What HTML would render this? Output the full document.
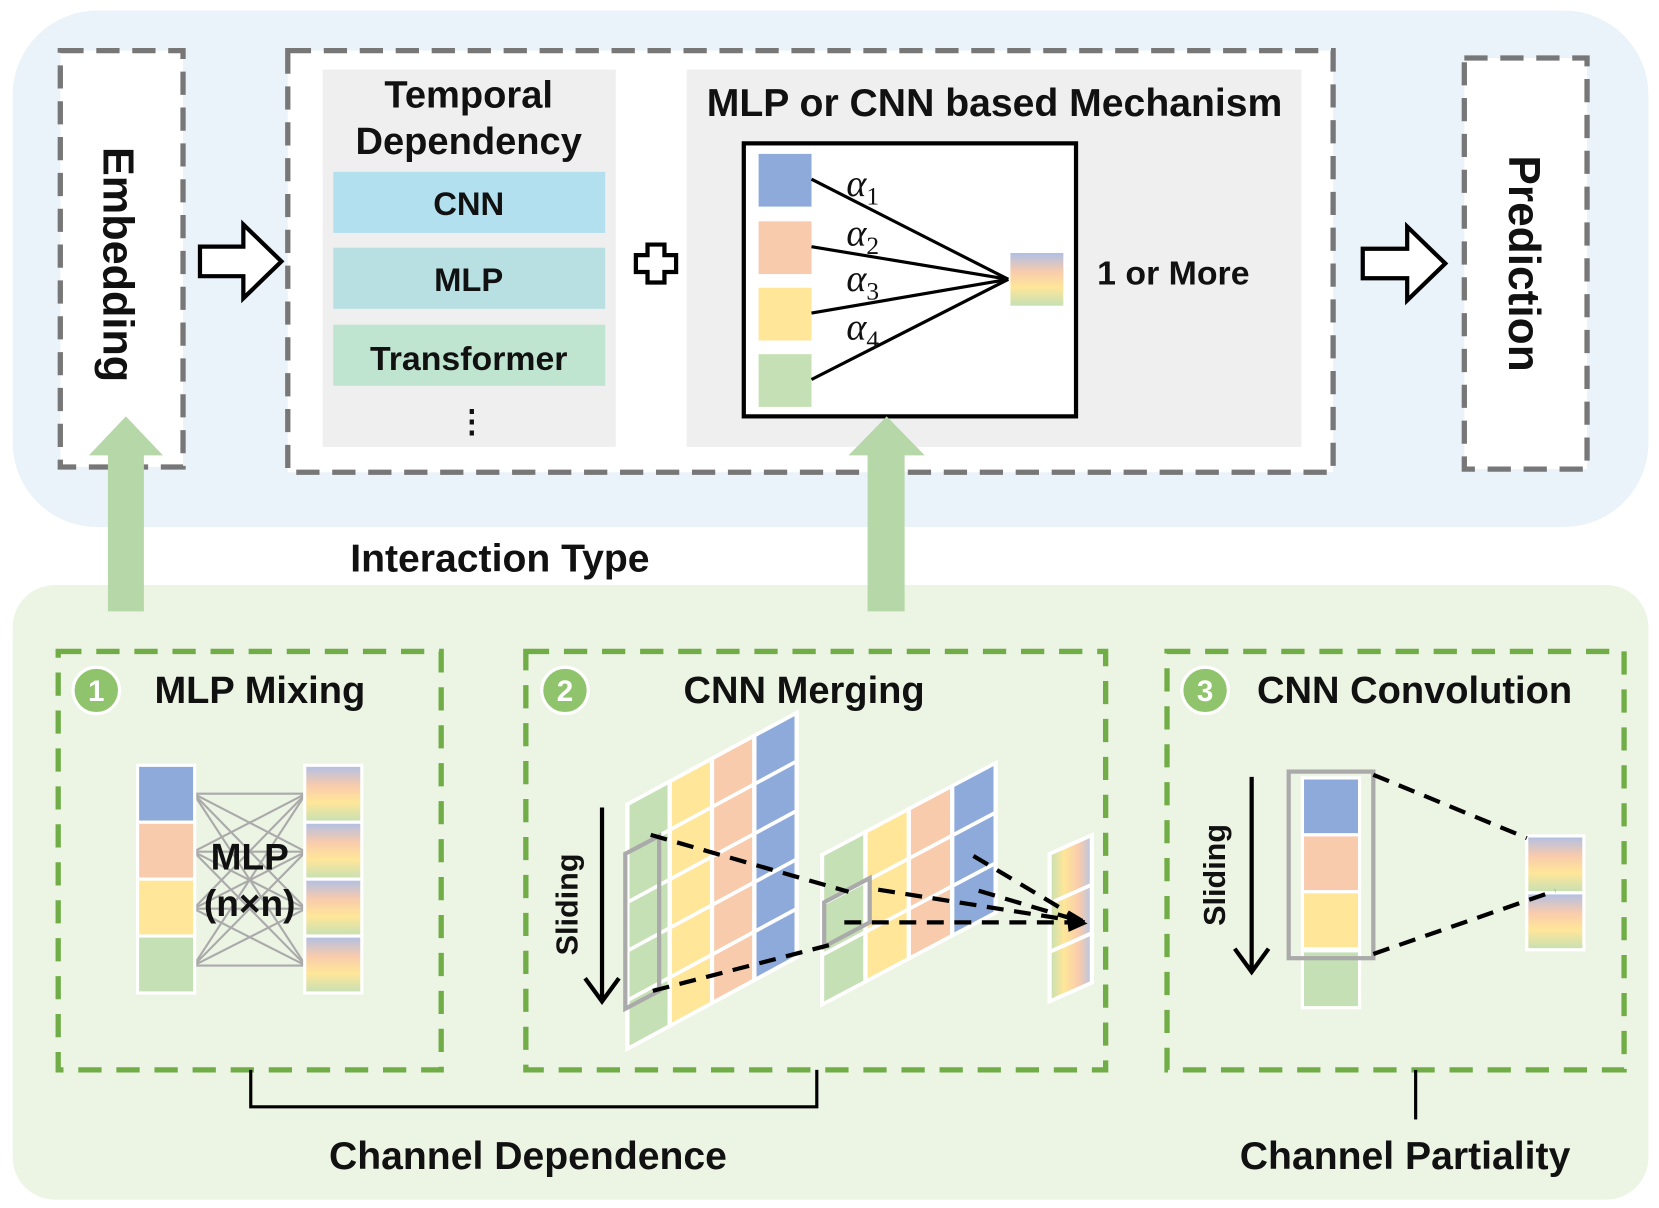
<!DOCTYPE html>
<html><head><meta charset="utf-8"><style>html,body{margin:0;padding:0;background:#fff}svg{display:block}text{font-family:"Liberation Sans",sans-serif;font-weight:bold;fill:#111}</style></head><body>
<svg width="1659" height="1208" viewBox="0 0 1568 1146" preserveAspectRatio="none" xmlns="http://www.w3.org/2000/svg">
<defs>
<linearGradient id="gv" x1="0" y1="0" x2="0" y2="1"><stop offset="0" stop-color="#aebfe6"/><stop offset="0.35" stop-color="#f8cbad"/><stop offset="0.65" stop-color="#ffe699"/><stop offset="1" stop-color="#c5e0b4"/></linearGradient>
<linearGradient id="gh" x1="0" y1="0" x2="1" y2="0"><stop offset="0" stop-color="#c5e0b4"/><stop offset="0.35" stop-color="#ffe699"/><stop offset="0.7" stop-color="#f8cbad"/><stop offset="1" stop-color="#b4c7e7"/></linearGradient>
</defs>
<rect x="12" y="10" width="1546" height="490" rx="80" fill="#eaf2fa"/>
<rect x="12" y="555" width="1546" height="583" rx="40" fill="#ecf4e4"/>
<g fill="#fff" stroke="#777" stroke-width="5" stroke-dasharray="22 12">
<rect x="57" y="48" width="116" height="395"/>
<rect x="272" y="48" width="988" height="400"/>
<rect x="1384" y="55" width="116" height="390"/>
</g>
<text transform="translate(98,251) rotate(90)" text-anchor="middle" font-size="41">Embedding</text>
<text transform="translate(1426,250) rotate(90)" text-anchor="middle" font-size="42">Prediction</text>
<g fill="#fff" stroke="#000" stroke-width="4" stroke-linejoin="miter">
<path d="M189 234 H230 V213 L266 248 L230 283 V262 H189 Z"/>
<path d="M1288 236 H1330 V215 L1366 250 L1330 285 V264 H1288 Z"/>
<path d="M612 232 H628 V242 H639 V258 H628 V268 H612 V258 H601 V242 H612 Z" stroke-width="4"/>
</g>
<rect x="305" y="66" width="277" height="358" fill="#efefef"/>
<text x="443" y="102" text-anchor="middle" font-size="36">Temporal</text>
<text x="443" y="146" text-anchor="middle" font-size="36">Dependency</text>
<rect x="315" y="163" width="257" height="58" fill="#b3e0ef"/>
<rect x="315" y="235" width="257" height="58" fill="#b8e0e2"/>
<rect x="315" y="308" width="257" height="58" fill="#bfe4d0"/>
<text x="443" y="204" text-anchor="middle" font-size="31">CNN</text>
<text x="443" y="276" text-anchor="middle" font-size="31">MLP</text>
<text x="443" y="351" text-anchor="middle" font-size="32">Transformer</text>
<text x="446" y="410" text-anchor="middle" font-size="30">⋮</text>
<rect x="649" y="66" width="581" height="358" fill="#efefef"/>
<text x="940" y="110" text-anchor="middle" font-size="37">MLP or CNN based Mechanism</text>
<rect x="703" y="136" width="314" height="259" fill="#fff" stroke="#000" stroke-width="4"/>
<rect x="717" y="146" width="50" height="50" fill="#8eaadb"/>
<rect x="717" y="210" width="50" height="50" fill="#f8cbad"/>
<rect x="717" y="273" width="50" height="50" fill="#ffe699"/>
<rect x="717" y="336" width="50" height="50" fill="#c5e0b4"/>
<g stroke="#000" stroke-width="3"><line x1="767" y1="170" x2="953" y2="265"/><line x1="767" y1="234" x2="953" y2="265"/><line x1="767" y1="297" x2="953" y2="265"/><line x1="767" y1="360" x2="953" y2="265"/></g>
<rect x="955" y="240" width="50" height="50" fill="url(#gv)"/>
<g>
<text x="800" y="186" font-size="36" style="font-family:'Liberation Serif',serif;font-weight:normal;font-style:italic">α<tspan font-size="24" dy="8" style="font-style:normal">1</tspan></text>
<text x="800" y="233" font-size="36" style="font-family:'Liberation Serif',serif;font-weight:normal;font-style:italic">α<tspan font-size="24" dy="8" style="font-style:normal">2</tspan></text>
<text x="800" y="276" font-size="36" style="font-family:'Liberation Serif',serif;font-weight:normal;font-style:italic">α<tspan font-size="24" dy="8" style="font-style:normal">3</tspan></text>
<text x="800" y="322" font-size="36" style="font-family:'Liberation Serif',serif;font-weight:normal;font-style:italic">α<tspan font-size="24" dy="8" style="font-style:normal">4</tspan></text>
</g>
<text x="1037" y="270" font-size="32">1 or More</text>
<g fill="#b6d7a8">
<path d="M102 580 V432 H84 L119 395 L154 432 H136 V580 Z"/>
<path d="M820 580 V432 H802 L838 395 L874 432 H855 V580 Z"/>
</g>
<text x="331" y="542" font-size="37">Interaction Type</text>
<g fill="none" stroke="#70ad47" stroke-width="5" stroke-dasharray="22 14">
<rect x="55" y="618" width="362" height="397"/>
<rect x="497" y="618" width="548" height="397"/>
<rect x="1103" y="618" width="432" height="397"/>
</g>
<g fill="#90c46c" stroke="#fff" stroke-width="3">
<circle cx="91" cy="655" r="22"/><circle cx="534" cy="655" r="22"/><circle cx="1139" cy="655" r="22"/>
</g>
<g font-size="28" text-anchor="middle">
<text x="91" y="665" style="fill:#fff">1</text><text x="534" y="665" style="fill:#fff">2</text><text x="1139" y="665" style="fill:#fff">3</text>
</g>
<text x="146" y="667" font-size="36">MLP Mixing</text>
<text x="760" y="667" text-anchor="middle" font-size="36">CNN Merging</text>
<text x="1337" y="667" text-anchor="middle" font-size="36">CNN Convolution</text>
<g stroke="#aaa" stroke-width="2">
<line x1="183" y1="753" x2="289" y2="753"/><line x1="183" y1="753" x2="289" y2="808"/><line x1="183" y1="753" x2="289" y2="862"/><line x1="183" y1="753" x2="289" y2="916"/>
<line x1="183" y1="808" x2="289" y2="753"/><line x1="183" y1="808" x2="289" y2="808"/><line x1="183" y1="808" x2="289" y2="862"/><line x1="183" y1="808" x2="289" y2="916"/>
<line x1="183" y1="862" x2="289" y2="753"/><line x1="183" y1="862" x2="289" y2="808"/><line x1="183" y1="862" x2="289" y2="862"/><line x1="183" y1="862" x2="289" y2="916"/>
<line x1="183" y1="916" x2="289" y2="753"/><line x1="183" y1="916" x2="289" y2="808"/><line x1="183" y1="916" x2="289" y2="862"/><line x1="183" y1="916" x2="289" y2="916"/>
</g>
<g stroke="#fff" stroke-width="3">
<rect x="130" y="726" width="54" height="54" fill="#8eaadb"/><rect x="130" y="780" width="54" height="54" fill="#f8cbad"/>
<rect x="130" y="834" width="54" height="54" fill="#ffe699"/><rect x="130" y="888" width="54" height="54" fill="#c5e0b4"/>
<rect x="288" y="726" width="54" height="54" fill="url(#gv)"/><rect x="288" y="780" width="54" height="54" fill="url(#gv)"/>
<rect x="288" y="834" width="54" height="54" fill="url(#gv)"/><rect x="288" y="888" width="54" height="54" fill="url(#gv)"/>
</g>
<text x="236" y="825" text-anchor="middle" font-size="35">MLP</text>
<text x="236" y="869" text-anchor="middle" font-size="35">(n×n)</text>
<g transform="translate(593,763) skewY(-28.5)" stroke="#fff" stroke-width="4">
<rect x="0" y="0" width="40" height="232" fill="#c5e0b4"/><rect x="40" y="0" width="40" height="232" fill="#ffe699"/>
<rect x="80" y="0" width="40" height="232" fill="#f8cbad"/><rect x="120" y="0" width="40" height="232" fill="#8eaadb"/>
<line x1="0" y1="46" x2="160" y2="46"/><line x1="0" y1="93" x2="160" y2="93"/><line x1="0" y1="139" x2="160" y2="139"/><line x1="0" y1="186" x2="160" y2="186"/>
<rect x="0" y="0" width="160" height="232" fill="none"/>
</g>
<g transform="translate(777,811) skewY(-28)" stroke="#fff" stroke-width="4">
<rect x="0" y="0" width="41" height="142" fill="#c5e0b4"/><rect x="41" y="0" width="41" height="142" fill="#ffe699"/>
<rect x="82" y="0" width="41" height="142" fill="#f8cbad"/><rect x="123" y="0" width="41" height="142" fill="#8eaadb"/>
<line x1="0" y1="47" x2="164" y2="47"/><line x1="0" y1="95" x2="164" y2="95"/>
</g>
<g transform="translate(992,810) skewY(-24)" stroke="#fff" stroke-width="4">
<rect x="0" y="0" width="40" height="140" fill="url(#gh)"/>
<line x1="0" y1="47" x2="40" y2="47"/><line x1="0" y1="93" x2="40" y2="93"/>
</g>
<g fill="none" stroke="#aaa" stroke-width="4">
<path d="M591 855 L623 838 V985 L591 1002 Z" transform="translate(0,-45)"/>
<path d="M779 861 L822 838 V880 L779 903 Z" transform="translate(0,-5)"/>
</g>
<g stroke="#000" stroke-width="4" stroke-dasharray="16 10" fill="none">
<line x1="615" y1="792" x2="802" y2="846"/>
<line x1="617" y1="940" x2="786" y2="896"/>
<line x1="798" y1="875" x2="1025" y2="875"/>
<line x1="830" y1="844" x2="1025" y2="875"/>
<line x1="925" y1="845" x2="1025" y2="875"/>
<line x1="920" y1="812" x2="1025" y2="875"/>
</g>
<path d="M1028 876 L1008 867 L1010 884 Z" fill="#000"/>
<line x1="569" y1="766" x2="569" y2="948" stroke="#000" stroke-width="4"/>
<path d="M553 928 L569 950 L585 928" fill="none" stroke="#000" stroke-width="4"/>
<text transform="translate(546,858) rotate(-90)" text-anchor="middle" font-size="29">Sliding</text>
<g stroke="#fff" stroke-width="3">
<rect x="1231" y="738" width="54" height="54" fill="#8eaadb"/><rect x="1231" y="792" width="54" height="54" fill="#f8cbad"/>
<rect x="1231" y="846" width="54" height="54" fill="#ffe699"/><rect x="1231" y="902" width="54" height="54" fill="#c5e0b4"/>
<rect x="1443" y="793" width="54" height="54" fill="url(#gv)"/><rect x="1443" y="847" width="54" height="54" fill="url(#gv)"/>
</g>
<rect x="1218" y="732" width="80" height="177" fill="none" stroke="#aaa" stroke-width="4"/>
<g stroke="#000" stroke-width="4" stroke-dasharray="16 10"><line x1="1298" y1="735" x2="1443" y2="795"/><line x1="1298" y1="905" x2="1470" y2="845"/></g>
<line x1="1183" y1="737" x2="1183" y2="920" stroke="#000" stroke-width="4"/>
<path d="M1167 900 L1183 922 L1199 900" fill="none" stroke="#000" stroke-width="4"/>
<text transform="translate(1158,830) rotate(-90)" text-anchor="middle" font-size="29">Sliding</text>
<path d="M237 1015 V1050 H772 V1015" fill="none" stroke="#000" stroke-width="3"/>
<line x1="1338" y1="1015" x2="1338" y2="1062" stroke="#000" stroke-width="3"/>
<text x="499" y="1109" text-anchor="middle" font-size="37">Channel Dependence</text>
<text x="1328" y="1109" text-anchor="middle" font-size="37">Channel Partiality</text>
</svg>
</body></html>
